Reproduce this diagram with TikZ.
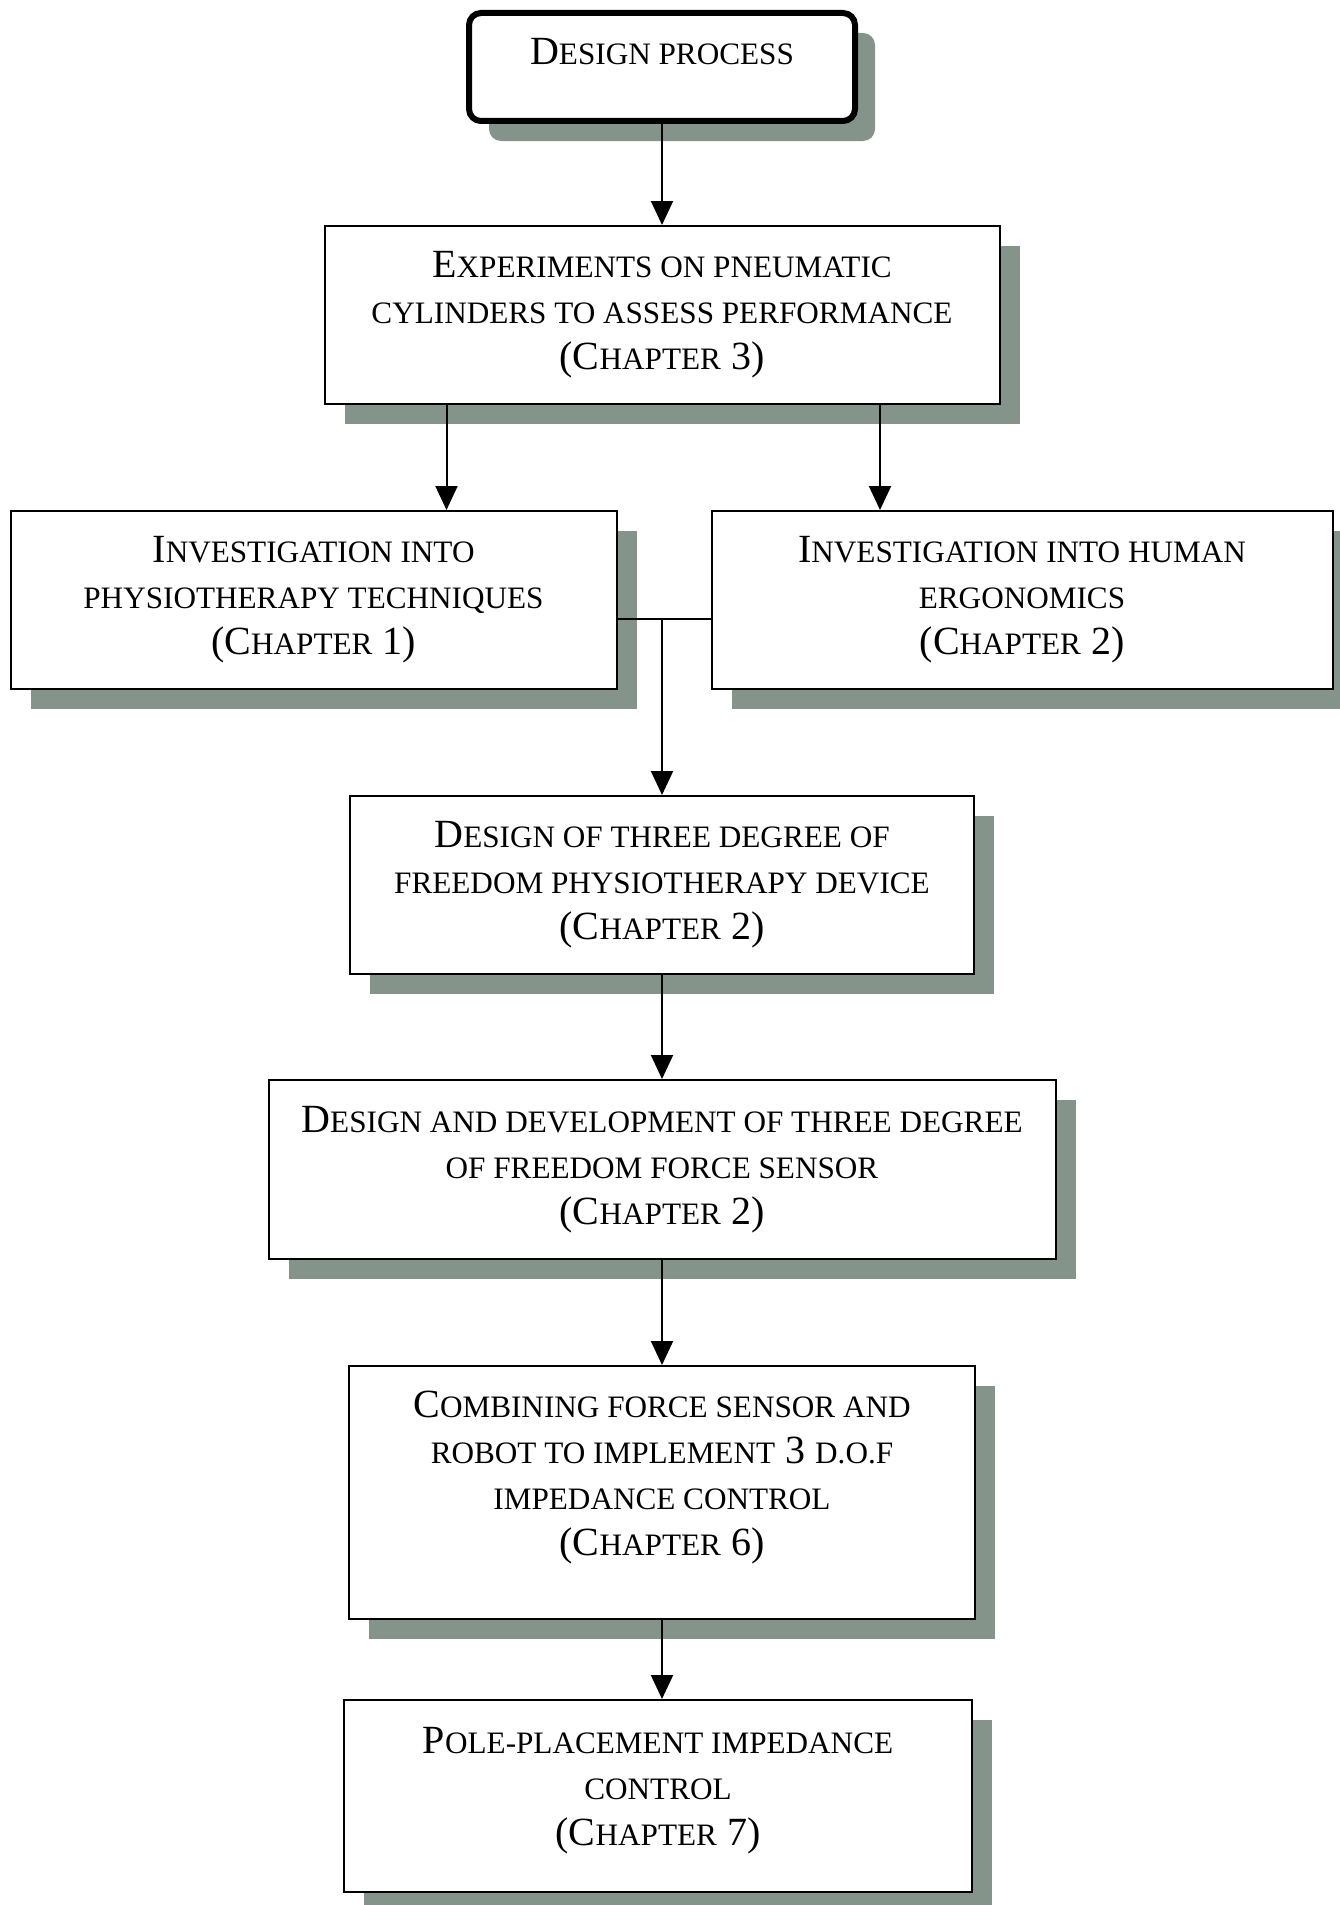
\documentclass[tikz,border=0pt]{standalone}
\usepackage{fontspec}
\setmainfont{Liberation Serif}
\usepackage{tikz}
\usetikzlibrary{shapes,positioning,shadows,arrows.meta}
\definecolor{shadowgrey}{RGB}{132,148,138}
\newcommand{\lc}[1]{{\fontsize{15.6pt}{23pt}\selectfont #1}}

\begin{document}
\begin{tikzpicture}[
    font=\fontsize{20pt}{23pt}\selectfont,
    line width=1pt,
    >={Triangle[width=11pt,length=12pt]},
    boxshadow/.style={drop shadow={shadow xshift=10pt,shadow yshift=-10pt,fill=shadowgrey,opacity=1}},
    chapbox/.style={draw,fill=white,boxshadow,align=center,minimum height=89pt,inner sep=0pt}
]

\useasboundingbox (0,0) rectangle (669.5pt,-952.5pt);

\node[draw,
    line width=3pt,
    rounded corners=6pt,
    fill=white,
    boxshadow,
    minimum width=193pt,
    inner sep=0pt,
    text height=26pt,
    text depth=28pt
] (block1) at (331pt,-33.5pt) { D\lc{ESIGN PROCESS} };

\node[chapbox,
    below=50.5pt of block1,
    minimum width=337.5pt
] (block2) { E\lc{XPERIMENTS ON PNEUMATIC}\\ \lc{CYLINDERS TO ASSESS PERFORMANCE}\\ (C\lc{HAPTER} 3) };

\node[chapbox,
    below=52.5pt of block2,
    xshift=-174.25pt,
    minimum width=303pt
] (block3L) { I\lc{NVESTIGATION INTO}\\ \lc{PHYSIOTHERAPY TECHNIQUES}\\ (C\lc{HAPTER} 1) };

\node[chapbox,
    below=52.5pt of block2,
    xshift=180pt,
    minimum width=310.5pt
] (block3R) { I\lc{NVESTIGATION INTO HUMAN}\\ \lc{ERGONOMICS}\\ (C\lc{HAPTER} 2) };

\coordinate[below=107pt of block2] (join);
\coordinate (tapL) at ([xshift=61.5pt]block2.south west);
\coordinate (tapR) at ([xshift=-60.25pt]block2.south east);

\node[chapbox,
    below=88pt of join,
    minimum width=312pt
] (block4) { D\lc{ESIGN OF THREE DEGREE OF}\\ \lc{FREEDOM PHYSIOTHERAPY DEVICE}\\ (C\lc{HAPTER} 2) };

\node[chapbox,
    below=52pt of block4,
    minimum width=393.5pt,
    minimum height=89.5pt
] (block5) { D\lc{ESIGN AND DEVELOPMENT OF THREE DEGREE}\\ \lc{OF FREEDOM FORCE SENSOR}\\ (C\lc{HAPTER} 2) };

\node[chapbox,
    below=52.5pt of block5,
    minimum width=313pt,
    minimum height=126.5pt,
    text depth=19pt
] (block6) { C\lc{OMBINING FORCE SENSOR AND}\\ \lc{ROBOT TO IMPLEMENT} 3 \lc{D.O.F}\\ \lc{IMPEDANCE CONTROL}\\ (C\lc{HAPTER} 6) };

\node[chapbox,
    below=39.5pt of block6,
    xshift=-2pt,
    minimum width=314pt,
    minimum height=96pt,
    text depth=9.5pt
] (block7) { P\lc{OLE-PLACEMENT IMPEDANCE}\\ \lc{CONTROL}\\ (C\lc{HAPTER} 7) };

\draw[->] (block1) -- (block2);

\draw[->] (tapL) -- (tapL |- block3L.north);
\draw[->] (tapR) -- (tapR |- block3R.north);

\draw (block3L.east |- join) -- (block3R.west |- join);
\draw[->] (join) -- (block4);

\draw[->] (block4) -- (block5);
\draw[->] (block5) -- (block6);
\draw[->] (block6) -- (block6 |- block7.north);

\end{tikzpicture}
\end{document}
